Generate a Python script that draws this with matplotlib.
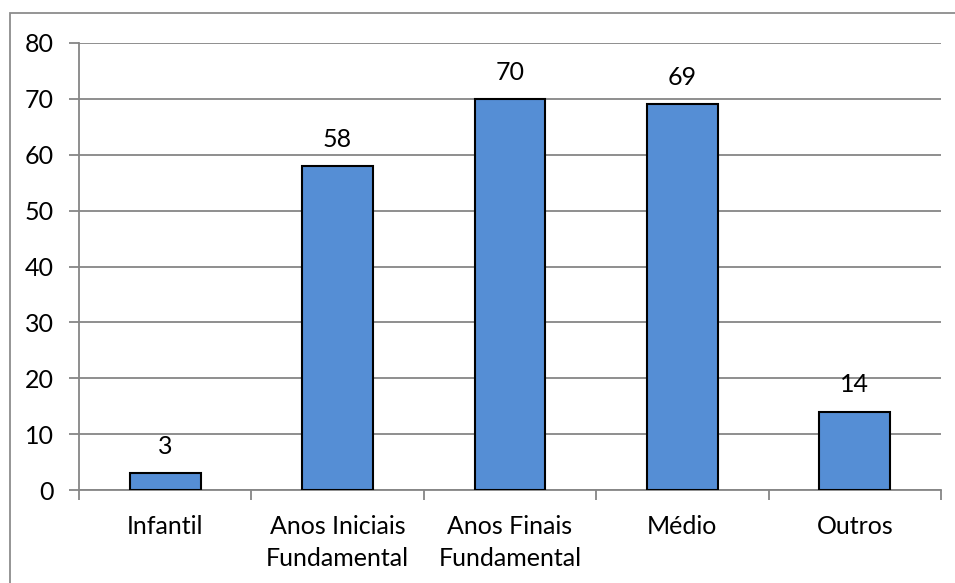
import matplotlib.pyplot as plt
from matplotlib.patches import Rectangle

categories = ['Infantil', 'Anos Iniciais\nFundamental', 'Anos Finais\nFundamental', 'Médio', 'Outros']
values = [3, 58, 70, 69, 14]

plt.rcParams['font.family'] = ['Lato', 'DejaVu Sans']

fig = plt.figure(figsize=(9.55, 5.83), dpi=100)
ax = fig.add_axes([79 / 955, 1 - 490 / 583, (941 - 79) / 955, (490 - 43) / 583])

grid_color = '#868686'
fs = 18
x = range(len(categories))
bars = ax.bar(x, values, width=0.41, color='#558ED5', edgecolor='black', linewidth=1.5, zorder=3)

for xi, v in zip(x, values):
    ax.annotate(str(v), (xi, v), xytext=(0, 11), textcoords='offset points',
                ha='center', va='bottom', fontsize=fs)

ax.set_xlim(-0.5, len(categories) - 0.5)
ax.set_ylim(0, 80)
ax.set_yticks(range(0, 81, 10))
ax.yaxis.grid(True, color=grid_color, linewidth=1.3, zorder=0)
ax.set_axisbelow(True)

# category labels between boundary ticks
ax.set_xticks([i - 0.5 for i in range(len(categories) + 1)])
ax.set_xticklabels([])
ax.set_xticks(list(x), minor=True)
ax.set_xticklabels(categories, minor=True, fontsize=fs, linespacing=1.5)
ax.tick_params(axis='x', which='minor', length=0, pad=18)
ax.tick_params(axis='x', which='major', length=7, color=grid_color, width=1.3)
ax.tick_params(axis='y', length=7, color=grid_color, width=1.3, labelsize=fs, pad=11)

for side in ['top', 'right']:
    ax.spines[side].set_visible(False)
for side in ['left', 'bottom']:
    ax.spines[side].set_color(grid_color)
    ax.spines[side].set_linewidth(1.3)

# outer chart frame
fig.patches.append(Rectangle((10 / 955, -0.1), 1.2, 1 - 13 / 583 + 0.1,
                             transform=fig.transFigure, fill=False,
                             edgecolor='#8C8C8C', linewidth=1.3))

fig.savefig('out.png', dpi=100)
